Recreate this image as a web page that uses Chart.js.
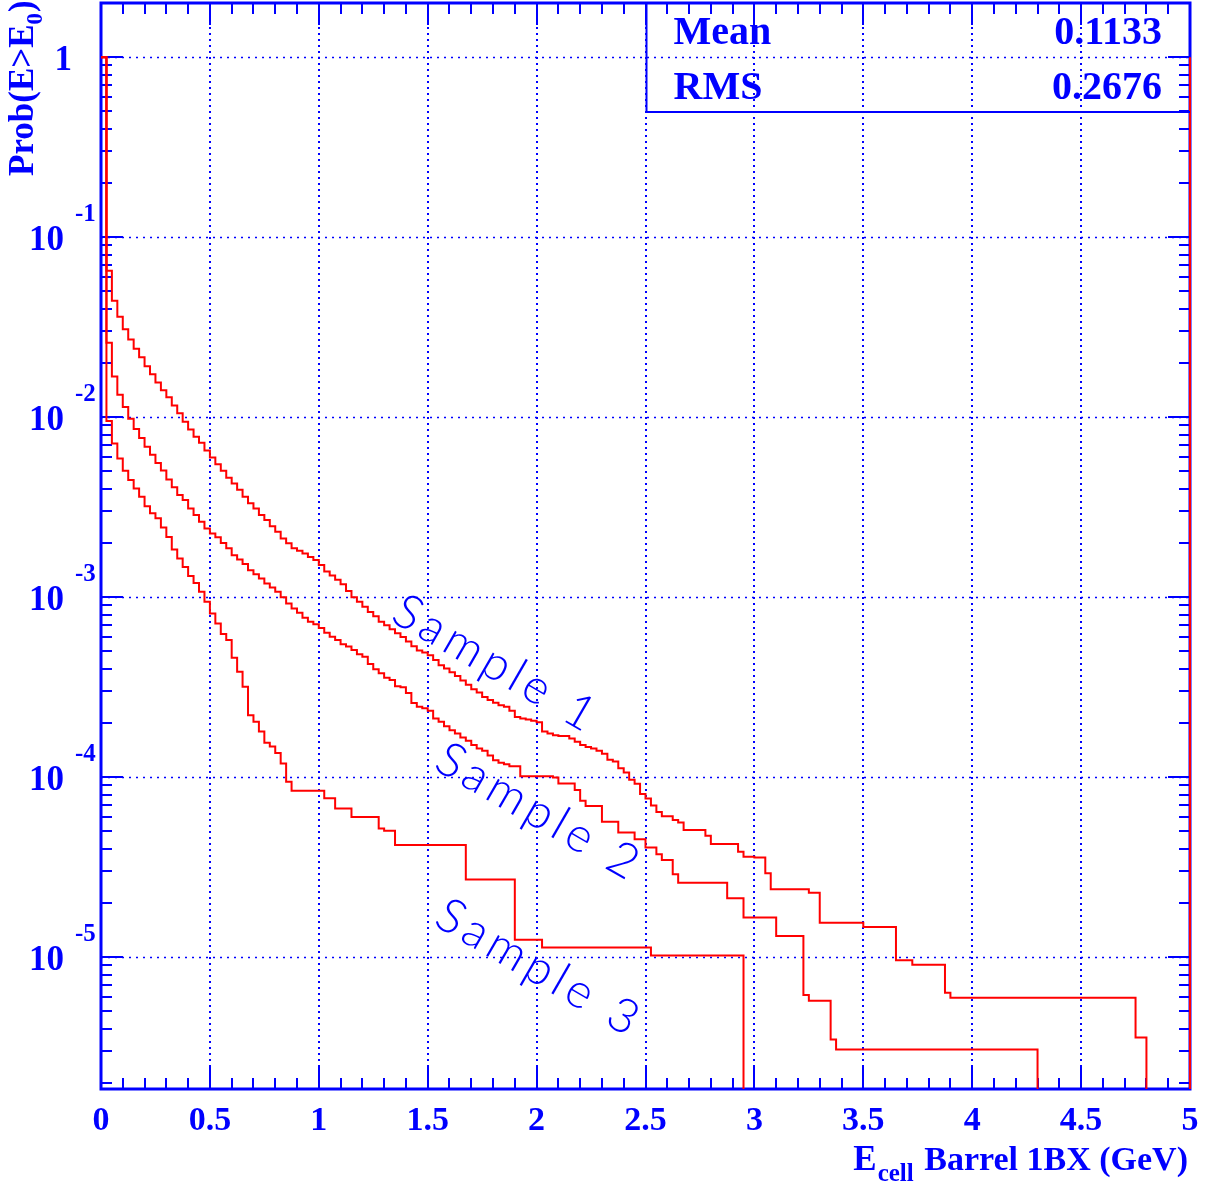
<!DOCTYPE html>
<html>
<head>
<meta charset="utf-8">
<script src="https://cdn.jsdelivr.net/npm/chart.js@4.4.1/dist/chart.umd.min.js"></script>
<style>
  html, body { margin: 0; padding: 0; background: #fff; }
  canvas { display: block; }
</style>
</head>
<body>
<canvas id="plot" width="1210" height="1190"></canvas>
<script>
// histogram binning (GeV)
var binWidth = 0.025;
var nBins = 200;
var xMin = 0;
var xMax = 5;
var yMin = 1.85e-6;
var yMax = 2;

// Prob(E>E0) per bin; bins past the end of a list are empty
var sample1 = [
  1, 0.065, 0.0443, 0.0361, 0.0308, 0.027, 0.024, 0.0215, 0.0192, 0.0173,
  0.0156, 0.0141, 0.0129, 0.0116, 0.0105, 0.00944, 0.00855, 0.00778, 0.0072, 0.00653,
  0.00597, 0.00548, 0.00503, 0.0046, 0.00428, 0.00395, 0.00361, 0.00332, 0.00311, 0.00286,
  0.00268, 0.00248, 0.00231, 0.00212, 0.00199, 0.00187, 0.00181, 0.00175, 0.00167, 0.00161,
  0.00151, 0.00139, 0.00132, 0.00125, 0.00118, 0.00108, 0.001, 0.000942, 0.000883, 0.000828,
  0.000784, 0.000729, 0.000699, 0.000664, 0.000631, 0.0006, 0.000567, 0.000534, 0.000505, 0.000492,
  0.000476, 0.000447, 0.000419, 0.000401, 0.000383, 0.000365, 0.000344, 0.000326, 0.000308, 0.000295,
  0.000279, 0.000268, 0.000259, 0.000251, 0.000246, 0.000234, 0.000216, 0.000212, 0.000209, 0.000206,
  0.000202, 0.000179, 0.000175, 0.000171, 0.000169, 0.000169, 0.000164, 0.000157, 0.000151, 0.000147,
  0.000144, 0.00014, 0.000135, 0.000125, 0.000122, 0.000112, 0.000106, 9.68e-5, 9.18e-5, 8.07e-5,
  7.6e-5, 6.95e-5, 6.4e-5, 6.07e-5, 6.07e-5, 5.77e-5, 5.59e-5, 5.08e-5, 5.08e-5, 5.08e-5,
  5.08e-5, 4.73e-5, 4.25e-5, 4.25e-5, 4.25e-5, 4.25e-5, 4.25e-5, 3.85e-5, 3.61e-5, 3.61e-5,
  3.58e-5, 3.58e-5, 2.92e-5, 2.38e-5, 2.38e-5, 2.38e-5, 2.38e-5, 2.38e-5, 2.38e-5, 2.38e-5,
  2.28e-5, 2.28e-5, 1.55e-5, 1.55e-5, 1.55e-5, 1.55e-5, 1.55e-5, 1.55e-5, 1.55e-5, 1.55e-5,
  1.47e-5, 1.47e-5, 1.47e-5, 1.47e-5, 1.47e-5, 1.47e-5, 9.62e-6, 9.62e-6, 9.62e-6, 9.06e-6,
  9.06e-6, 9.06e-6, 9.06e-6, 9.06e-6, 9.06e-6, 6.34e-6, 5.94e-6, 5.94e-6, 5.94e-6, 5.94e-6,
  5.94e-6, 5.94e-6, 5.94e-6, 5.94e-6, 5.94e-6, 5.94e-6, 5.94e-6, 5.94e-6, 5.94e-6, 5.94e-6,
  5.94e-6, 5.94e-6, 5.94e-6, 5.94e-6, 5.94e-6, 5.94e-6, 5.94e-6, 5.94e-6, 5.94e-6, 5.94e-6,
  5.94e-6, 5.94e-6, 5.94e-6, 5.94e-6, 5.94e-6, 5.94e-6, 5.94e-6, 5.94e-6, 5.94e-6, 5.94e-6,
  3.58e-6, 3.58e-6
];
var sample1Overflow = 1;

var sample2 = [
  1, 0.0259, 0.0168, 0.0133, 0.0114, 0.00979, 0.0086, 0.00766, 0.00684, 0.00618,
  0.00557, 0.00506, 0.00451, 0.00408, 0.00369, 0.00346, 0.00311, 0.00286, 0.00262, 0.00241,
  0.00226, 0.00215, 0.002, 0.00187, 0.00171, 0.00162, 0.00153, 0.00141, 0.00134, 0.00127,
  0.00119, 0.00113, 0.00107, 0.001, 0.000923, 0.000865, 0.000818, 0.000769, 0.000731, 0.000706,
  0.000673, 0.000635, 0.000603, 0.000577, 0.000548, 0.000531, 0.000508, 0.000482, 0.000467, 0.000425,
  0.000398, 0.000378, 0.000357, 0.000346, 0.00032, 0.000316, 0.000293, 0.000258, 0.000246, 0.000241,
  0.000234, 0.000212, 0.000203, 0.000192, 0.000182, 0.000175, 0.000166, 0.000159, 0.000151, 0.000144,
  0.00014, 0.000132, 0.000124, 0.00012, 0.000118, 0.000115, 0.000115, 0.000101, 0.000101, 0.000101,
  0.000101, 0.000101, 0.000101, 9.96e-5, 9.23e-5, 9.23e-5, 9.23e-5, 8.47e-5, 7.39e-5, 6.9e-5,
  6.9e-5, 6.9e-5, 5.65e-5, 5.65e-5, 5.65e-5, 4.92e-5, 4.92e-5, 4.92e-5, 4.51e-5, 4.51e-5,
  4.06e-5, 4.06e-5, 3.73e-5, 3.46e-5, 3.46e-5, 2.89e-5, 2.59e-5, 2.59e-5, 2.59e-5, 2.59e-5,
  2.59e-5, 2.59e-5, 2.59e-5, 2.59e-5, 2.59e-5, 2.12e-5, 2.12e-5, 2.12e-5, 1.66e-5, 1.66e-5,
  1.66e-5, 1.66e-5, 1.66e-5, 1.66e-5, 1.31e-5, 1.31e-5, 1.31e-5, 1.31e-5, 1.31e-5, 6.15e-6,
  5.72e-6, 5.72e-6, 5.72e-6, 5.72e-6, 3.49e-6, 3.07e-6, 3.07e-6, 3.07e-6, 3.07e-6, 3.07e-6,
  3.07e-6, 3.07e-6, 3.07e-6, 3.07e-6, 3.07e-6, 3.07e-6, 3.07e-6, 3.07e-6, 3.07e-6, 3.07e-6,
  3.07e-6, 3.07e-6, 3.07e-6, 3.07e-6, 3.07e-6, 3.07e-6, 3.07e-6, 3.07e-6, 3.07e-6, 3.07e-6,
  3.07e-6, 3.07e-6, 3.07e-6, 3.07e-6, 3.07e-6, 3.07e-6, 3.07e-6, 3.07e-6, 3.07e-6, 3.07e-6,
  3.07e-6, 3.07e-6
];

var sample3 = [
  1, 0.00953, 0.00714, 0.0059, 0.00503, 0.00447, 0.00402, 0.00361, 0.0032, 0.00292,
  0.00274, 0.00244, 0.00216, 0.00184, 0.00164, 0.00147, 0.00131, 0.0012, 0.00107, 0.000942,
  0.000811, 0.000714, 0.000623, 0.000577, 0.00046, 0.000385, 0.000318, 0.000221, 0.000203, 0.000179,
  0.000155, 0.000148, 0.000136, 0.000119, 9.42e-5, 8.39e-5, 8.39e-5, 8.39e-5, 8.39e-5, 8.39e-5,
  8.39e-5, 7.64e-5, 7.64e-5, 6.7e-5, 6.7e-5, 6.7e-5, 6.0e-5, 6.0e-5, 6.0e-5, 6.0e-5,
  6.0e-5, 5.19e-5, 5.03e-5, 5.03e-5, 4.19e-5, 4.19e-5, 4.19e-5, 4.19e-5, 4.19e-5, 4.19e-5,
  4.19e-5, 4.19e-5, 4.19e-5, 4.19e-5, 4.19e-5, 4.19e-5, 4.19e-5, 2.7e-5, 2.7e-5, 2.7e-5,
  2.7e-5, 2.7e-5, 2.7e-5, 2.7e-5, 2.7e-5, 2.7e-5, 1.25e-5, 1.25e-5, 1.25e-5, 1.25e-5,
  1.25e-5, 1.13e-5, 1.13e-5, 1.13e-5, 1.13e-5, 1.13e-5, 1.13e-5, 1.13e-5, 1.13e-5, 1.13e-5,
  1.13e-5, 1.13e-5, 1.13e-5, 1.13e-5, 1.13e-5, 1.13e-5, 1.13e-5, 1.13e-5, 1.13e-5, 1.13e-5,
  1.13e-5, 1.02e-5, 1.02e-5, 1.02e-5, 1.02e-5, 1.02e-5, 1.02e-5, 1.02e-5, 1.02e-5, 1.02e-5,
  1.02e-5, 1.02e-5, 1.02e-5, 1.02e-5, 1.02e-5, 1.02e-5, 1.02e-5, 1.02e-5
];

var xTicks = [0, 0.5, 1, 1.5, 2, 2.5, 3, 3.5, 4, 4.5, 5];
var xTickLabels = ["0", "0.5", "1", "1.5", "2", "2.5", "3", "3.5", "4", "4.5", "5"];
var yDecades = [0, -1, -2, -3, -4, -5];

var statNames = ["Mean", "RMS"];
var statValues = ["0.1133", "0.2676"];

var sampleNames = ["Sample 1", "Sample 2", "Sample 3"];
var sampleAnchorX = [1.322, 1.52, 1.52];
var sampleAnchorY = [7.45e-4, 1.12e-4, 1.52e-5];

var blue = "#0000ff";
var red = "#ff0000";
var serif = "\"Liberation Serif\", \"Times New Roman\", serif";
var emptyLevel = 1e-8;

function histOutline(vals, overflow) {
  var pts = [];
  for (var i = 0; i < nBins; i++) {
    var v = vals[i] > 0 ? vals[i] : emptyLevel;
    pts.push({ x: i * binWidth, y: v });
    pts.push({ x: (i + 1) * binWidth, y: v });
  }
  if (overflow) pts.push({ x: xMax, y: overflow });
  return pts;
}

function boldText(ctx, txt, x, y, size, align) {
  ctx.font = "bold " + size + "px " + serif;
  ctx.textAlign = align || "left";
  ctx.fillText(txt, x, y);
  return ctx.measureText(txt).width;
}

var rootFrame = {
  id: "rootFrame",
  beforeDatasetsDraw: function (chart) {
    var ctx = chart.ctx;
    var a = chart.chartArea;
    var xs = chart.scales.x;
    var ys = chart.scales.y;
    ctx.save();
    ctx.strokeStyle = blue;

    // dotted grid
    ctx.lineWidth = 2;
    ctx.setLineDash([2, 4]);
    for (var i = 1; i < xTicks.length - 1; i++) {
      var px = Math.round(xs.getPixelForValue(xTicks[i]));
      ctx.beginPath();
      ctx.moveTo(px, a.top);
      ctx.lineTo(px, a.bottom);
      ctx.stroke();
    }
    ctx.lineWidth = 1.5;
    ctx.setLineDash([2, 5]);
    for (var j = 0; j < yDecades.length; j++) {
      var py = Math.round(ys.getPixelForValue(Math.pow(10, yDecades[j]))) + 0.5;
      ctx.beginPath();
      ctx.moveTo(a.left, py);
      ctx.lineTo(a.right, py);
      ctx.stroke();
    }
    ctx.setLineDash([]);

    // tick marks, inside the frame on all four sides
    ctx.lineWidth = 2;
    for (var t = 0; t <= 50; t++) {
      var tx = Math.round(xs.getPixelForValue(t / 10));
      var len = t % 5 === 0 ? 22 : 11;
      ctx.beginPath();
      ctx.moveTo(tx, a.bottom);
      ctx.lineTo(tx, a.bottom - len);
      ctx.moveTo(tx, a.top);
      ctx.lineTo(tx, a.top + len);
      ctx.stroke();
    }
    for (var d = -6; d <= 0; d++) {
      for (var m = 1; m <= 9; m++) {
        var v = m * Math.pow(10, d);
        if (v < yMin || v >= yMax) continue;
        var ty = Math.round(ys.getPixelForValue(v));
        var l2 = m === 1 ? 22 : 11;
        ctx.beginPath();
        ctx.moveTo(a.left, ty);
        ctx.lineTo(a.left + l2, ty);
        ctx.moveTo(a.right, ty);
        ctx.lineTo(a.right - l2, ty);
        ctx.stroke();
      }
    }

    // frame
    ctx.lineWidth = 3;
    ctx.strokeRect(a.left, a.top, a.right - a.left, a.bottom - a.top);
    ctx.restore();
  },
  afterDatasetsDraw: function (chart) {
    var ctx = chart.ctx;
    var a = chart.chartArea;
    var xs = chart.scales.x;
    var ys = chart.scales.y;
    ctx.save();
    ctx.strokeStyle = blue;
    ctx.fillStyle = blue;
    ctx.textBaseline = "alphabetic";

    // x tick labels
    for (var i = 0; i < xTicks.length; i++) {
      boldText(ctx, xTickLabels[i], xs.getPixelForValue(xTicks[i]), a.bottom + 41, 34, "center");
    }
    // y tick labels, 10 with exponent
    for (var j = 0; j < yDecades.length; j++) {
      var yp = ys.getPixelForValue(Math.pow(10, yDecades[j]));
      if (yDecades[j] === 0) {
        boldText(ctx, "1", a.left - 29, yp + 13, 35, "right");
      } else {
        boldText(ctx, "10", a.left - 37, yp + 13, 35, "right");
        boldText(ctx, String(yDecades[j]), a.left - 26, yp - 16, 25, "left");
      }
    }

    // axis titles
    var w = boldText(ctx, " Barrel 1BX (GeV)", a.right - 2, a.bottom + 81, 34, "right");
    var wc = boldText(ctx, "cell", a.right - 4 - w, a.bottom + 92, 25, "right");
    boldText(ctx, "E", a.right - 4 - w - wc - 1, a.bottom + 81, 35, "right");

    ctx.save();
    ctx.translate(33, 176);
    ctx.rotate(-Math.PI / 2);
    var w1 = boldText(ctx, "Prob(E>E", 0, 0, 35, "left");
    var w2 = boldText(ctx, "0", w1, 9, 23, "left");
    boldText(ctx, ")", w1 + w2 + 1, 0, 35, "left");
    ctx.restore();

    // stat box
    var bx = a.left + (a.right - a.left) / 2 + 1;
    var by = a.top + 109;
    ctx.lineWidth = 2;
    ctx.beginPath();
    ctx.moveTo(bx, a.top);
    ctx.lineTo(bx, by);
    ctx.lineTo(a.right, by);
    ctx.stroke();
    for (var s = 0; s < statNames.length; s++) {
      var base = a.top + 41 + s * 55;
      boldText(ctx, statNames[s], bx + 27, base, 40, "left");
      boldText(ctx, statValues[s], a.right - 28, base, 40, "right");
    }

    // sample labels along the curves
    ctx.font = "300 48px Lato, Inter, \"Open Sans\", sans-serif";
    ctx.textAlign = "left";
    ctx.letterSpacing = "5px";
    for (var k = 0; k < sampleNames.length; k++) {
      ctx.save();
      ctx.translate(xs.getPixelForValue(sampleAnchorX[k]), ys.getPixelForValue(sampleAnchorY[k]));
      ctx.rotate(30 * Math.PI / 180);
      ctx.fillText(sampleNames[k], 0, 0);
      ctx.restore();
    }
    ctx.restore();
  }
};

var curves = [sample1, sample2, sample3];
var datasets = [];
for (var c = 0; c < curves.length; c++) {
  datasets.push({
    data: histOutline(curves[c], c === 0 ? sample1Overflow : 0),
    borderColor: red,
    borderWidth: 2,
    pointRadius: 0,
    tension: 0,
    fill: false,
    clip: { left: 1, top: 0, right: 2, bottom: 0 }
  });
}

new Chart(document.getElementById("plot"), {
  type: "line",
  data: { datasets: datasets },
  options: {
    responsive: false,
    animation: false,
    devicePixelRatio: 1,
    layout: { padding: { left: 101, top: 3, right: 20, bottom: 101 } },
    plugins: { legend: { display: false }, tooltip: { enabled: false } },
    scales: {
      x: { type: "linear", min: xMin, max: xMax, display: false },
      y: { type: "logarithmic", min: yMin, max: yMax, display: false }
    }
  },
  plugins: [rootFrame]
});
</script>
</body>
</html>
